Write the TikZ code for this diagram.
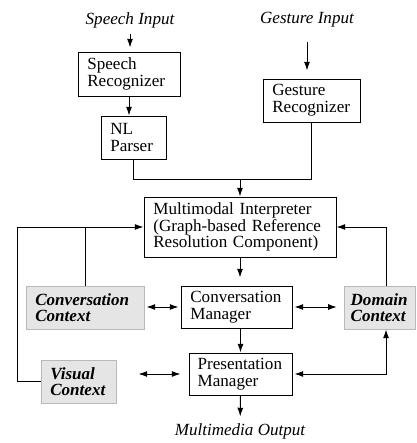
\documentclass[tikz,border=0pt]{standalone}
\usepackage{fontspec}
\setmainfont{Liberation Serif}
\usetikzlibrary{arrows.meta}

\tikzset{every picture/.style={line width=0.75pt}}
\tikzset{
	blk/.style={draw, align=left, inner xsep=7pt, inner ysep=0pt, font=\fontsize{12.8}{12.5}\selectfont},
	ctx/.style={blk, draw=gray!55, fill=gray!20, font=\fontsize{12.8}{12.5}\selectfont\bfseries\itshape},
	lbl/.style={inner sep=0.75pt, font=\fontsize{12.8}{12.5}\selectfont\itshape},
	arr/.style={-{Latex[length=6.5pt,width=4.5pt]}},
	darr/.style={{Latex[length=6.5pt,width=4.5pt]}-{Latex[length=6.5pt,width=4.5pt]}}
}

\begin{document}
\begin{tikzpicture}[x=0.75pt,y=0.75pt,yscale=-1,xscale=1]
	\useasboundingbox (0,0) rectangle (417,443);

	% inputs
	\node[lbl] (sin) at (130,20) {Speech Input};
	\node[lbl] (gin) at (307,20) {Gesture Input};
	% recognizers
	\node[blk, text width=62.5pt, minimum height=33pt] (sr) at (129,74) {Speech\\Recognizer};
	\node[blk, text width=34.75pt, minimum height=32.25pt] (nl) at (133.5,137.5) {NL\\Parser};
	\node[blk, text width=58.75pt, minimum height=32.25pt] (gr) at (311.5,100.5) {Gesture\\Recognizer};
	% interpreter
	\node[blk, text width=130pt, minimum height=45pt] (mi) at (240,227) {Multimodal Interpreter\\(Graph-based Reference\\Resolution Component)};
	% managers and contexts
	\node[ctx, text width=74.5pt, minimum height=32.25pt] (cc) at (85,307.5) {Conversation\\Context};
	\node[blk, text width=69.25pt, minimum height=31.5pt] (cm) at (236.5,307) {Conversation\\Manager};
	\node[ctx, inner xsep=5pt, text width=43.25pt, minimum height=32.25pt] (dc) at (379.5,307.5) {Domain\\Context};
	\node[blk, inner xsep=6.5pt, text width=64.25pt, minimum height=31.5pt] (pm) at (240.5,374) {Presentation\\Manager};
	\node[ctx, text width=42.25pt, minimum height=32.25pt] (vc) at (78.5,381.5) {Visual\\Context};
	% output
	\node[lbl] (out) at (240,431) {Multimedia Output};

	\coordinate (jn) at (240,179);

	% top part
	\draw[arr, shorten <=3.2pt, shorten >=3pt] (sin.south) -- (sin.south |- sr.north);
	\draw[arr, shorten <=10pt, shorten >=6pt] (gin.south) -- (gin.south |- gr.north);
	\draw[arr] (sr.south) -- (sr.south |- nl.north);
	\draw (nl.south) |- (jn);
	\draw (gr.south) |- (jn);
	\draw[arr] (jn) -- (mi.north);

	% middle part
	\draw[arr, shorten >=6pt] (mi.south) -- (mi.south |- cm.north);
	\draw[darr, shorten <=1.5pt, shorten >=1.5pt] (cc.east |- cm.west) -- (cm.west);
	\draw[darr, shorten <=1.5pt, shorten >=5pt] (cm.east) -- (cm.east -| dc.west);
	\draw[arr] (pm.north |- cm.south) -- (pm.north);
	\draw[darr, shorten <=16.5pt, shorten >=6pt] (vc.east |- pm.west) -- (pm.west);
	\draw[darr, shorten <=1.5pt] (pm.east) -| ([xshift=4.9pt]dc.south);

	% feedback to interpreter
	\draw[arr] ([xshift=4.9pt]dc.north) |- (mi.east);
	\draw (cc.north) -- (cc.north |- mi.west);
	\draw[arr] (vc.west) -- ++(-23,0) |- (mi.west);

	\draw[arr, shorten >=4pt] (pm.south) -- (out);
\end{tikzpicture}
\end{document}
